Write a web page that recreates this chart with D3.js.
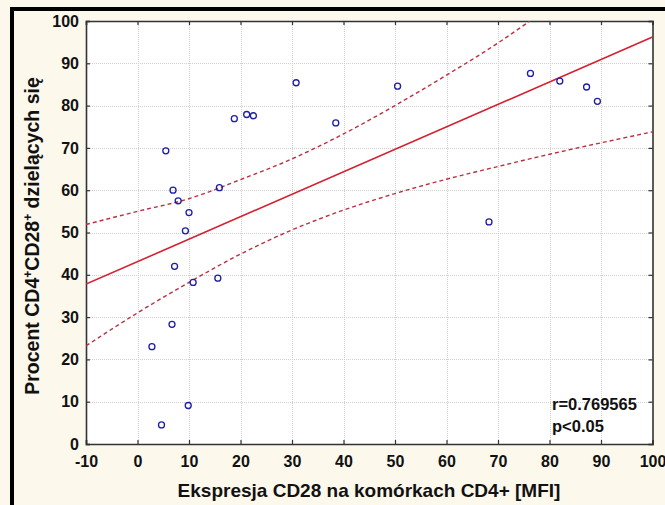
<!DOCTYPE html>
<html><head><meta charset="utf-8">
<script src="https://cdn.jsdelivr.net/npm/d3@7/dist/d3.min.js"></script>
<style>
body{margin:0;background:#fcf8ec;}
svg{display:block;}
text{font-family:"Liberation Sans",Arial,sans-serif;font-weight:bold;fill:#111;}
</style>
</head><body>
<svg id="chart" width="665" height="505"></svg>
<script>
// Data
const pointX = [5.5, 6.9, 7.9, 10.0, 9.3, 7.2, 10.8, 15.6, 15.9, 6.7, 2.8, 9.85, 4.66, 18.8, 21.2, 22.5, 30.8, 38.5, 50.5, 68.25, 76.3, 82.0, 87.2, 89.3];
const pointY = [69.3, 60.0, 57.5, 54.7, 50.4, 42.0, 38.2, 39.2, 60.6, 28.3, 23.0, 9.1, 4.5, 76.9, 77.9, 77.6, 85.4, 75.9, 84.6, 52.5, 87.6, 85.8, 84.4, 81.0];
const fitX = [-10, 100];
const fitY = [37.8, 96.2];
const upperX = [-10, 0, 10, 20, 30, 40, 50, 60, 70, 76.2];
const upperY = [51.9, 55.0, 58.0, 62.5, 67.4, 73.3, 80.0, 87.2, 94.8, 100];
const lowerX = [-10, 0, 10, 20, 30, 40, 50, 60, 70, 80, 90, 100];
const lowerY = [23.2, 31.0, 38.2, 44.9, 50.6, 55.3, 59.2, 62.6, 65.6, 68.5, 71.2, 73.8];
const xTicks = [-10, 0, 10, 20, 30, 40, 50, 60, 70, 80, 90, 100];
const yTicks = [0, 10, 20, 30, 40, 50, 60, 70, 80, 90, 100];
const xTitle = "Ekspresja CD28 na komórkach CD4+ [MFI]";
const statLines = ["r=0.769565", "p<0.05"];

const svg = d3.select("#chart");
const L = 86, R = 652.5, T = 21, B = 444;
const x = d3.scaleLinear().domain([-10, 100]).range([L, R]);
const y = d3.scaleLinear().domain([0, 100]).range([B, T]);

// outer black frame (left and top visible)
svg.append("rect").attr("x", 10).attr("y", 7).attr("width", 4).attr("height", 498).attr("fill", "#000");
svg.append("rect").attr("x", 10).attr("y", 7).attr("width", 655).attr("height", 4).attr("fill", "#000");

// plot background
svg.append("rect").attr("x", L).attr("y", T).attr("width", R - L).attr("height", B - T).attr("fill", "#fff");

svg.append("defs").append("clipPath").attr("id", "clip")
  .append("rect").attr("x", L).attr("y", T).attr("width", R - L).attr("height", B - T);

// grid
const grid = svg.append("g").attr("stroke", "#cfcfcf").attr("stroke-width", 1).attr("stroke-dasharray", "1,1");
grid.selectAll(".vx").data(xTicks.slice(1, -1)).join("line")
  .attr("x1", d => Math.round(x(d)) + 0.5).attr("x2", d => Math.round(x(d)) + 0.5).attr("y1", T).attr("y2", B);
grid.selectAll(".hy").data(yTicks.slice(1, -1)).join("line")
  .attr("y1", d => Math.round(y(d)) + 0.5).attr("y2", d => Math.round(y(d)) + 0.5).attr("x1", L).attr("x2", R);

// axes with inward ticks
const tl = 4;
const fmt = d => String(d);
const gB = svg.append("g").attr("transform", `translate(0,${B})`)
  .call(d3.axisBottom(x).tickValues(xTicks).tickSize(-tl).tickPadding(8).tickFormat(fmt));
const gT = svg.append("g").attr("transform", `translate(0,${T})`)
  .call(d3.axisTop(x).tickValues(xTicks).tickSize(-tl).tickFormat(""));
const gL = svg.append("g").attr("transform", `translate(${L},0)`)
  .call(d3.axisLeft(y).tickValues(yTicks).tickSize(-tl).tickPadding(7).tickFormat(fmt));
const gR = svg.append("g").attr("transform", `translate(${R},0)`)
  .call(d3.axisRight(y).tickValues(yTicks).tickSize(-tl).tickFormat(""));
[gB, gT, gL, gR].forEach(g => {
  g.select(".domain").attr("stroke", "#333").attr("stroke-width", 1.6);
  g.selectAll(".tick line").attr("stroke", "#333").attr("stroke-width", 1.2);
  g.selectAll("text").attr("font-size", 16).attr("font-family", "'Liberation Sans',Arial,sans-serif")
    .attr("font-weight", "bold").attr("fill", "#111");
});
gB.selectAll(".tick text").attr("dy", "0.95em");

const plot = svg.append("g").attr("clip-path", "url(#clip)");
const line = d3.line().x(d => x(d[0])).y(d => y(d[1]));
const smooth = d3.line().x(d => x(d[0])).y(d => y(d[1])).curve(d3.curveMonotoneX);

plot.append("path").attr("d", smooth(upperX.map((v, i) => [v, upperY[i]])))
  .attr("fill", "none").attr("stroke", "#bb3040").attr("stroke-width", 1.4).attr("stroke-dasharray", "4,3");
plot.append("path").attr("d", smooth(lowerX.map((v, i) => [v, lowerY[i]])))
  .attr("fill", "none").attr("stroke", "#bb3040").attr("stroke-width", 1.4).attr("stroke-dasharray", "4,3");
plot.append("path").attr("d", line(fitX.map((v, i) => [v, fitY[i]])))
  .attr("fill", "none").attr("stroke", "#d42030").attr("stroke-width", 1.6);

plot.selectAll("circle").data(pointX.map((v, i) => [v, pointY[i]])).join("circle")
  .attr("cx", d => x(d[0])).attr("cy", d => y(d[1])).attr("r", 3)
  .attr("fill", "none").attr("stroke", "#1c1ca8").attr("stroke-width", 1.3);

// annotation
svg.append("text").attr("x", 552).attr("y", 410).attr("font-size", 16.5).text(statLines[0]);
svg.append("text").attr("x", 552).attr("y", 432).attr("font-size", 16.5).text(statLines[1]);

// axis titles
svg.append("text").attr("x", 369).attr("y", 497).attr("text-anchor", "middle").attr("font-size", 19).text(xTitle);
const yt = svg.append("text").attr("transform", "translate(39,236) rotate(-90)")
  .attr("text-anchor", "middle").attr("font-size", 19.5);
yt.append("tspan").text("Procent CD4");
yt.append("tspan").attr("font-size", 12).attr("dy", -7).text("+");
yt.append("tspan").attr("dy", 7).text("CD28");
yt.append("tspan").attr("font-size", 12).attr("dy", -7).text("+");
yt.append("tspan").attr("dy", 7).text(" dzielących się");
</script>
</body></html>
